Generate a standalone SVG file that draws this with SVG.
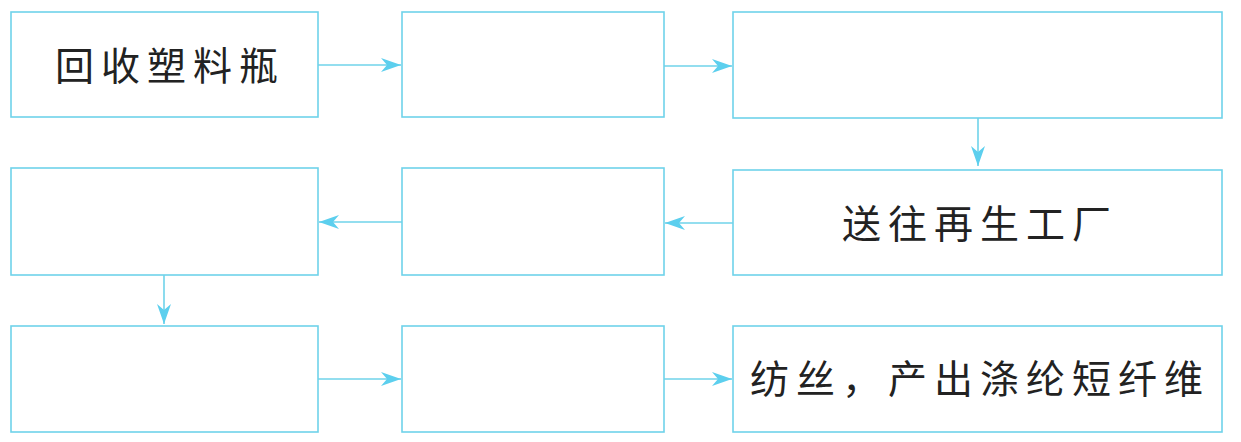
<svg xmlns="http://www.w3.org/2000/svg" width="1241" height="442" viewBox="0 0 1241 442">
<style>
.box{fill:#fff;stroke:#6fd3ea;stroke-width:1.6}
.con{stroke:#6fd3ea;stroke-width:1.6;fill:none}
.t{font-family:"Noto Sans CJK SC","Noto Sans CJK TC",sans-serif;font-size:39px;letter-spacing:7px;fill:#222}
</style>
<defs>
<marker id="ah" viewBox="0 0 20 14" refX="20" refY="7" markerWidth="20" markerHeight="14" markerUnits="userSpaceOnUse" orient="auto">
<path d="M0,0 L20,7 L0,14 L6,7 Z" fill="#5ccfee"/>
</marker>
</defs>
<rect width="1241" height="442" fill="#fff"/>
<g id="n1"><rect class="box" x="11" y="12" width="307" height="105"/><text class="t" x="55" y="80">回收塑料瓶</text></g>
<g id="n2"><rect class="box" x="402" y="12" width="262" height="105"/></g>
<g id="n3"><rect class="box" x="733" y="12" width="489" height="106"/></g>
<g id="n4"><rect class="box" x="11" y="168" width="307" height="107"/></g>
<g id="n5"><rect class="box" x="402" y="168" width="262" height="107"/></g>
<g id="n6"><rect class="box" x="733" y="170" width="489" height="105"/><text class="t" x="842" y="238">送往再生工厂</text></g>
<g id="n7"><rect class="box" x="11" y="326" width="307" height="106"/></g>
<g id="n8"><rect class="box" x="402" y="326" width="262" height="106"/></g>
<g id="n9"><rect class="box" x="733" y="326" width="489" height="106"/><text class="t" x="750" y="393">纺丝，产出涤纶短纤维</text></g>
<g id="connectors">
<line class="con" x1="318" y1="65" x2="401" y2="65" marker-end="url(#ah)"/>
<line class="con" x1="664" y1="66" x2="732" y2="66" marker-end="url(#ah)"/>
<line class="con" x1="978" y1="118" x2="978" y2="166" marker-end="url(#ah)"/>
<line class="con" x1="733" y1="223" x2="665" y2="223" marker-end="url(#ah)"/>
<line class="con" x1="402" y1="222" x2="319" y2="222" marker-end="url(#ah)"/>
<line class="con" x1="164" y1="275" x2="164" y2="324" marker-end="url(#ah)"/>
<line class="con" x1="318" y1="379" x2="401" y2="379" marker-end="url(#ah)"/>
<line class="con" x1="664" y1="379" x2="732" y2="379" marker-end="url(#ah)"/>
</g>
</svg>
